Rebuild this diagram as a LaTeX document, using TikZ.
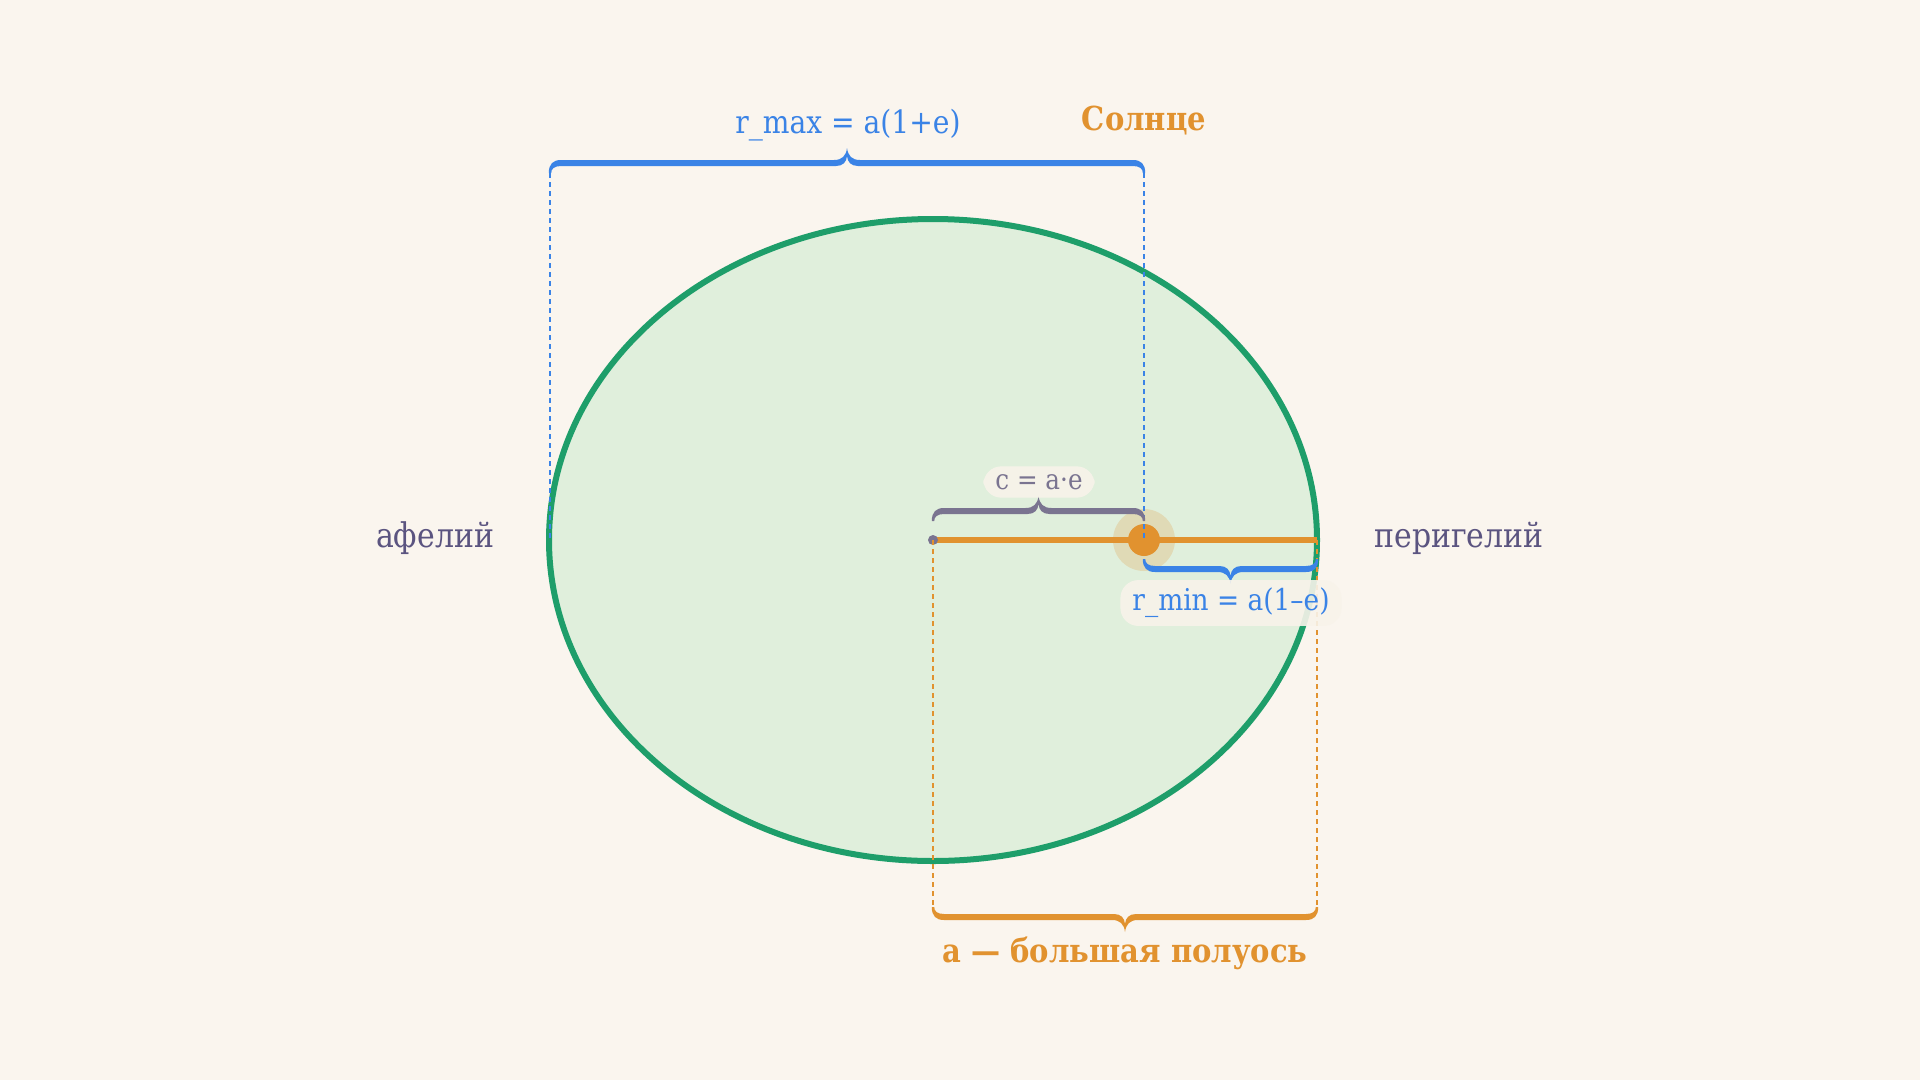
\documentclass[tikz,border=0pt]{standalone}
\usepackage{fontspec}
\setmainfont[FakeStretch=0.88]{DejaVu Serif}
\usetikzlibrary{calc}
\definecolor{bg}{HTML}{FAF5EE}
\definecolor{orbitgreen}{HTML}{1E9E6A}
\definecolor{orbitfill}{HTML}{E0EFDC}
\definecolor{myblue}{HTML}{3A83E6}
\definecolor{myorange}{HTML}{E1922F}
\definecolor{bracegray}{HTML}{7A7490}
\definecolor{labelpurple}{HTML}{5B5480}
\definecolor{boxcream}{HTML}{F8F3EA}
\tikzset{
  orbit/.style={draw=orbitgreen, fill=orbitfill, line width=6pt},
  axisline/.style={draw=myorange, line width=6pt},
  bluedash/.style={draw=myblue, line width=2pt, dash pattern=on 5pt off 4pt},
  orangedash/.style={draw=myorange, line width=2pt, dash pattern=on 5pt off 4pt},
  bracefill/.style={
    to path={let \p1=(\tikztostart), \p2=(\tikztotarget),
      \p3=($(\tikztostart)!0.5!(\tikztotarget)$) in
      (\x1-1.2pt,\y1) .. controls (\x1-1.2pt,\y1+#1*9pt) and (\x1+3pt,\y1+#1*13pt) .. (\x1+11pt,\y1+#1*13pt)
      -- (\x3-13pt,\y1+#1*13pt)
      .. controls (\x3-5pt,\y1+#1*13pt) and (\x3-1pt,\y1+#1*17pt) .. (\x3,\y1+#1*25pt)
      .. controls (\x3+1pt,\y1+#1*17pt) and (\x3+5pt,\y1+#1*13pt) .. (\x3+13pt,\y1+#1*13pt)
      -- (\x2-11pt,\y1+#1*13pt)
      .. controls (\x2-3pt,\y1+#1*13pt) and (\x2+1.2pt,\y1+#1*9pt) .. (\x2+1.2pt,\y1)
      -- (\x2-1.2pt,\y1)
      .. controls (\x2-1.2pt,\y1+#1*4pt) and (\x2-4pt,\y1+#1*7pt) .. (\x2-11pt,\y1+#1*7pt)
      -- (\x3+11pt,\y1+#1*7pt)
      .. controls (\x3+4pt,\y1+#1*7pt) and (\x3+0.5pt,\y1+#1*11pt) .. (\x3,\y1+#1*17pt)
      .. controls (\x3-0.5pt,\y1+#1*11pt) and (\x3-4pt,\y1+#1*7pt) .. (\x3-11pt,\y1+#1*7pt)
      -- (\x1+11pt,\y1+#1*7pt)
      .. controls (\x1+4pt,\y1+#1*7pt) and (\x1+1.2pt,\y1+#1*4pt) .. (\x1+1.2pt,\y1)
      -- (\x1-1.2pt,\y1)}},
  reglabel/.style={font=\fontsize{34}{40}\selectfont, text=labelpurple, inner sep=6pt},
  boxlabel/.style={fill=boxcream, fill opacity=0.9, text opacity=1, rounded corners=18pt, inner xsep=12pt, inner ysep=8pt},
}
\begin{document}
\begin{tikzpicture}[x=1pt,y=-1pt]
\useasboundingbox (0,0) rectangle (1920,1080);
\fill[bg] (0,0) rectangle (1920,1080);
% key points
\coordinate (C) at (933,540);
\coordinate (S) at (1144,540);
\coordinate (P) at (1317,540);
\coordinate (A) at (550,540);
\coordinate (Atop) at (550,173);
\coordinate (Stop) at (1144,173);
\coordinate (Cbot) at (933,907);
\coordinate (Pbot) at (1317,907);
\coordinate (Cc) at (933,521);
\coordinate (Sc) at (1144,521);
\coordinate (Sr) at (1144,559);
\coordinate (Pr) at (1317,559);
% orbit
\path[orbit] (C) ellipse [x radius=384, y radius=321];
% major semi-axis line
\draw[axisline] (C) -- (P);
% sun
\fill[myorange, opacity=0.22] (S) circle [radius=31];
\fill[myorange] (S) circle [radius=16];
% centre
\fill[bracegray] (C) circle [radius=5];
% guide lines
\draw[bluedash] (Atop) -- (A);
\draw[bluedash] (Stop) -- (S);
\draw[orangedash] (C) -- (Cbot);
\draw[orangedash] (P) -- (Pbot);
% braces
\fill[myblue] (Atop) to[bracefill=1] (Stop);
\fill[bracegray] (Cc) to[bracefill=1] (Sc);
\fill[myblue] (Sr) to[bracefill=-1] (Pr);
\fill[myorange] (Cbot) to[bracefill=-1] (Pbot);
% labels
\node[text=myblue, font=\fontsize{32}{38}\selectfont] (rmax) at (848,125) {r\_max = a(1+e)};
\node[text=myorange, font=\bfseries\fontsize{33}{38}\selectfont] (sun) at (1144,121) {Солнце};
\node[boxlabel, text=bracegray, font=\fontsize{28}{32}\selectfont] (clab) at (1039,482) {c = a·e};
\node[boxlabel, text=myblue, font=\fontsize{30}{34}\selectfont] (rmin) at (1231,603) {r\_min = a(1–e)};
\node[reglabel] (aph) at (435,538) {афелий};
\node[reglabel] (per) at (1459,538) {перигелий};
\node[text=myorange, font=\bfseries\fontsize{33}{38}\selectfont] (alab) at (1125,953) {a — большая полуось};
\end{tikzpicture}
\end{document}
